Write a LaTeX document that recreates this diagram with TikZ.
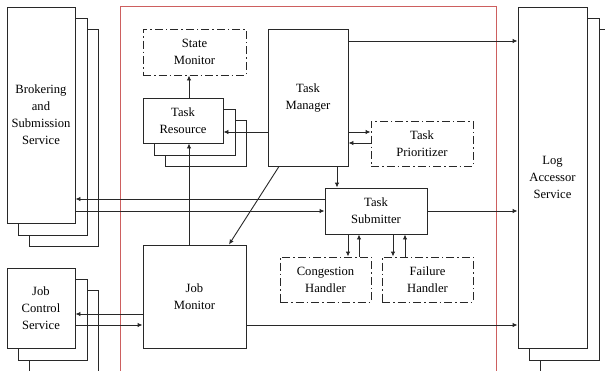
\documentclass[tikz,border=0pt]{standalone}
\usepackage{fontspec}
\setmainfont{Liberation Serif}
\newfontfamily\diagserif{Liberation Serif}
\usetikzlibrary{arrows.meta,backgrounds}
\definecolor{redline}{RGB}{205,95,95}
\definecolor{ink}{RGB}{40,40,40}
\begin{document}
\begin{tikzpicture}[x=1pt,y=-1pt,
  box/.style={draw=ink, line width=0.9pt, fill=white, inner sep=0pt, align=center,
    font=\diagserif\fontsize{12.6}{17}\selectfont},
  dbox/.style={box, dash pattern=on 8pt off 3pt on 1.5pt off 3pt},
  layer/.style={draw=ink, line width=0.9pt, fill=white},
  arr/.style={draw=ink, line width=0.9pt, -{Latex[length=5pt,width=4.5pt]}},
  ]
\useasboundingbox (0,0) rectangle (605,370);
\clip (0,0) rectangle (605,370);

\node[box, minimum width=68pt, minimum height=216pt] (bss) at (41,115) {Brokering\\and\\Submission\\Service};
\node[dbox, minimum width=103pt, minimum height=46pt] (sm) at (194.5,52) {State\\Monitor};
\node[box, minimum width=80pt, minimum height=45pt] (tr) at (183,120.5) {Task\\Resource};
\node[box, minimum width=80pt, minimum height=137pt] (tm) at (308,97.5) {Task\\Manager};
\node[dbox, minimum width=102pt, minimum height=45pt] (tp) at (422,143.5) {Task\\Prioritizer};
\node[box, minimum width=102pt, minimum height=46pt] (ts) at (376,211) {Task\\Submitter};
\node[dbox, minimum width=91pt, minimum height=45pt] (ch) at (325.5,279.5) {Congestion\\Handler};
\node[dbox, minimum width=91pt, minimum height=45pt] (fh) at (427.5,279.5) {Failure\\Handler};
\node[box, minimum width=103pt, minimum height=103pt] (jm) at (194.5,296.5) {Job\\Monitor};
\node[box, minimum width=68pt, minimum height=80pt] (jcs) at (41,308) {Job\\Control\\Service};
\node[box, minimum width=69pt, minimum height=341pt] (la) at (552.5,177.5) {Log\\Accessor\\Service};

\begin{scope}[on background layer]
  \draw[redline, line width=1pt] (120,6.5) rectangle (496,400);
  \foreach \n in {bss,tr,jcs,la}{
    \draw[layer] ([shift={(23,23)}]\n.north west) rectangle ([shift={(23,23)}]\n.south east);
    \draw[layer] ([shift={(11.5,11.5)}]\n.north west) rectangle ([shift={(11.5,11.5)}]\n.south east);
  }
\end{scope}

% connectors
\draw[arr] (tm.east |- 0,41) -- (la.west |- 0,41);
\draw[arr] (tm.west |- 0,132) -- (tr.east |- 0,132);
\draw[arr] (tr.north -| 189,0) -- (sm.south -| 189,0);
\draw[arr] (jm.north -| 189,0) -- (tr.south -| 189,0);
\draw[arr] (tm.east |- 0,132) -- (tp.west |- 0,132);
\draw[arr] (tp.west |- 0,143) -- (tm.east |- 0,143);
\draw[arr] (tm.south -| 337,0) -- (ts.north -| 337,0);
\draw[arr] (tm.south -| 279,0) -- (jm.north -| 229,0);
\draw[arr] (ts.west |- 0,199) -- (bss.east |- 0,199);
\draw[arr] (bss.east |- 0,211) -- (ts.west |- 0,211);
\draw[arr] (ts.east |- 0,211) -- (la.west |- 0,211);
\draw[arr] (ts.south -| 348,0) -- (ch.north -| 348,0);
\draw[arr] (ch.north -| 359,0) -- (ts.south -| 359,0);
\draw[arr] (ts.south -| 393,0) -- (fh.north -| 393,0);
\draw[arr] (fh.north -| 405,0) -- (ts.south -| 405,0);
\draw[arr] (jm.west |- 0,314) -- (jcs.east |- 0,314);
\draw[arr] (jcs.east |- 0,325) -- (jm.west |- 0,325);
\draw[arr] (jm.east |- 0,325) -- (la.west |- 0,325);
\end{tikzpicture}
\end{document}
